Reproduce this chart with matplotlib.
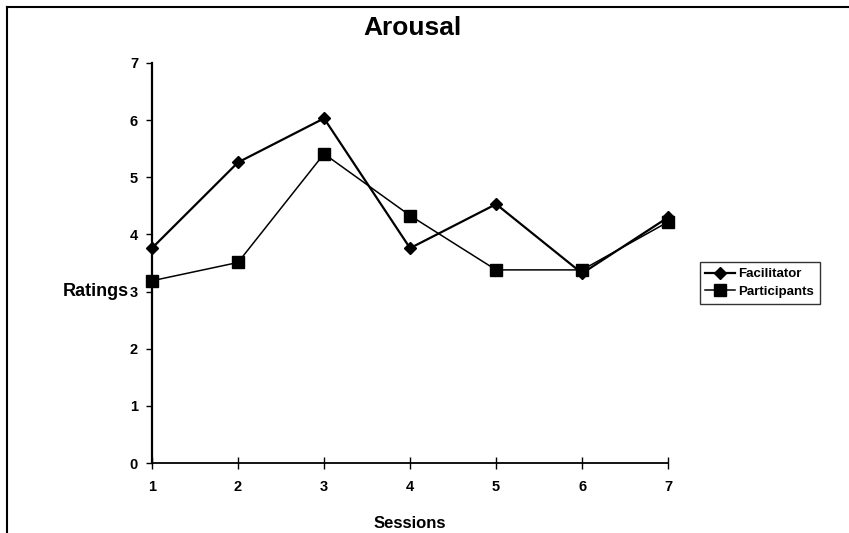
import matplotlib.pyplot as plt
from matplotlib.lines import Line2D

plt.rcParams['font.family'] = ['Liberation Sans', 'DejaVu Sans']
plt.rcParams['font.weight'] = 'bold'

sessions = [1, 2, 3, 4, 5, 6, 7]
facilitator = [3.76, 5.26, 6.03, 3.76, 4.53, 3.32, 4.30]
participants = [3.19, 3.51, 5.41, 4.33, 3.38, 3.38, 4.22]

fig = plt.figure(figsize=(8.49, 5.33), dpi=100)
ax = fig.add_axes([0.179, 0.131, 0.608, 0.751])

ax.plot(sessions, facilitator, color='black', lw=1.6, marker='D', markersize=6,
        label='Facilitator', clip_on=False)
ax.plot(sessions, participants, color='black', lw=1.1, marker='s', markersize=8,
        label='Participants', clip_on=False)

ax.set_xlim(1, 7)
ax.set_ylim(0, 7)
ax.set_xticks(sessions)
ax.set_yticks(range(8))
for s in ['top', 'right']:
    ax.spines[s].set_visible(False)
ax.spines['left'].set_linewidth(1.6)
ax.spines['bottom'].set_linewidth(1.3)
ax.tick_params(axis='x', direction='inout', length=8, width=1, labelsize=10.5, pad=8)
ax.tick_params(axis='y', direction='out', length=4, width=1, labelsize=10.5, pad=6)

ax.set_title('Arousal', fontsize=19, fontweight='bold', pad=20, x=0.504)
ax.set_xlabel('Sessions', fontsize=12, fontweight='bold', labelpad=16)
ax.set_ylabel('Ratings', fontsize=13, fontweight='bold', rotation=0,
              ha='right', va='center', labelpad=0)
ax.yaxis.set_label_coords(-0.045, 3 / 7)

leg = fig.legend(loc='center', bbox_to_anchor=(0.895, 0.469), fontsize=9.5,
                 frameon=True, fancybox=False, edgecolor='black',
                 handlelength=2.2, handletextpad=0.3, borderpad=0.45,
                 labelspacing=0.4)
leg.get_frame().set_linewidth(1)

# page border around the chart
fig.add_artist(Line2D([0.008, 1.0], [0.987, 0.987], color='black', lw=1.5))
fig.add_artist(Line2D([0.008, 0.008], [0.0, 0.987], color='black', lw=1.5))

fig.savefig('out.png', dpi=100)
